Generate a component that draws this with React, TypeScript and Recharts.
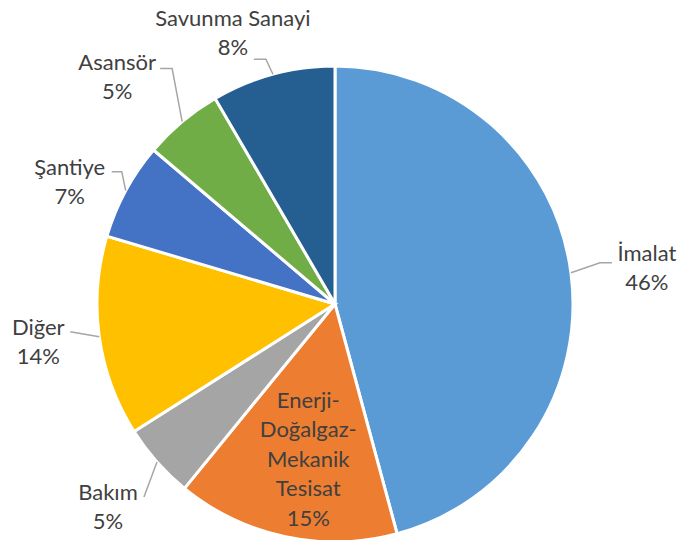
import React from 'react';
import { PieChart, Pie, Cell } from 'recharts';

const categories = [
  'İmalat',
  'Enerji-Doğalgaz-Mekanik Tesisat',
  'Bakım',
  'Diğer',
  'Şantiye',
  'Asansör',
  'Savunma Sanayi',
];
const shares = [45.8, 15.1, 5.1, 13.6, 6.6, 5.4, 8.4];
const colors = ['#5B9BD5', '#ED7D31', '#A5A5A5', '#FFC000', '#4472C4', '#70AD47', '#255E91'];

const data = categories.map((name, i) => ({ name, value: shares[i] }));

// label placement relative to the slice rim point (excel "best fit" look)
// e = elbow of leader, h = end of leader, t = text centre x, y1 = first baseline
const labelLayout = [
  { e: [29, -10], h: [41, -10], t: 76, y1: -12 },
  { inside: true, t: 23, y1: -129 },
  { e: [-13, 35], h: [-13, 35], t: -49, y1: 38 },
  { e: [-29, -5], h: [-29, -5], t: -61, y1: -2 },
  { e: [-4, -19], h: [-14, -19], t: -56, y1: -16 },
  { e: [-10, -53], h: [-22, -53], t: -65, y1: -52 },
  { e: [-7, -15], h: [-19, -15], t: -40, y1: -48 },
];

const RAD = Math.PI / 180;
const LINE_H = 29;
const textColor = '#404040';

function renderLabel(props: any) {
  const { cx, cy, midAngle, outerRadius, index, percent, name } = props;
  const layout: any = labelLayout[index];
  const rx = cx + outerRadius * Math.cos(-midAngle * RAD);
  const ry = cy + outerRadius * Math.sin(-midAngle * RAD);
  const pct = `${Math.round(percent * 100)}%`;
  const lines: string[] = layout.inside
    ? [...String(name).split(/(?<=-)|\s/), pct]
    : [String(name), pct];
  return (
    <g key={`lbl-${index}`}>
      {!layout.inside && (
        <polyline
          points={`${rx},${ry} ${rx + layout.e[0]},${ry + layout.e[1]} ${rx + layout.h[0]},${ry + layout.h[1]}`}
          fill="none"
          stroke="#A6A6A6"
          strokeWidth={1.5}
        />
      )}
      <text
        x={rx + layout.t}
        y={ry + layout.y1}
        textAnchor="middle"
        fill={textColor}
        fontSize={22}
        fontFamily="Lato, 'Open Sans', sans-serif"
      >
        {lines.map((l, i) => (
          <tspan key={i} x={rx + layout.t} y={ry + layout.y1 + i * (layout.inside ? 29.5 : LINE_H)}>
            {l}
          </tspan>
        ))}
      </text>
    </g>
  );
}

export default function App() {
  return (
    <div style={{ position: 'absolute', left: 0, top: 0, width: 680, height: 540, background: '#fff' }}>
      <PieChart width={680} height={540} margin={{ top: 0, right: 0, bottom: 0, left: 0 }}>
        <Pie
          data={data}
          dataKey="value"
          nameKey="name"
          cx={335}
          cy={304}
          outerRadius={238}
          startAngle={90}
          endAngle={-270}
          stroke="#ffffff"
          strokeWidth={3}
          labelLine={false}
          label={renderLabel}
          isAnimationActive={false}
        >
          {data.map((d, i) => (
            <Cell key={d.name} fill={colors[i]} />
          ))}
        </Pie>
      </PieChart>
    </div>
  );
}
